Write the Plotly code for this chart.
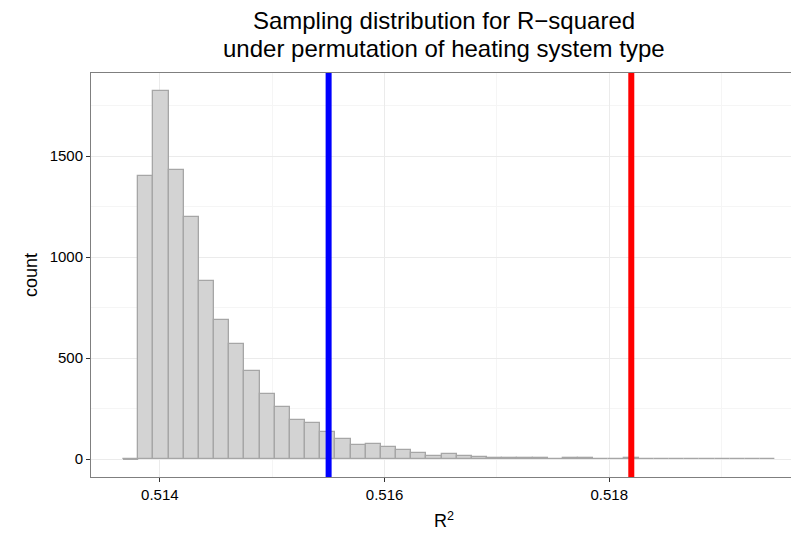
import numpy as np
import plotly.graph_objects as go

# histogram of permuted R-squared values
bin_start = 0.513672
bin_width = 0.000135
counts = [0, 1400, 1820, 1430, 1200, 880, 690, 570, 435, 325, 258, 195, 177, 135,
          99, 70, 76, 58, 45, 30, 15, 26, 16, 12, 4, 8, 6, 5, 3, 8, 8, 3, 2, 4,
          2, 1, 2, 2, 2, 1, 1, 2, 1]

cutoff_95 = 0.515502   # blue line
observed_r2 = 0.518196  # red line

x_ticks = [0.514, 0.516, 0.518]
y_ticks = [0, 500, 1000, 1500]

title_lines = ['Sampling distribution for R\u2212squared',
               'under permutation of heating system type']

counts = np.array(counts)
left_edges = bin_start + np.arange(len(counts)) * bin_width
centers = left_edges + bin_width / 2

fig = go.Figure()

fig.add_trace(go.Bar(
    x=centers, y=counts, width=bin_width,
    marker=dict(color='#d3d3d3', line=dict(color='#a6a6a6', width=1.3)),
    showlegend=False,
))

# ggplot draws empty bins as flat outlines
for x0, c in zip(left_edges, counts):
    if c == 0:
        fig.add_trace(go.Scatter(x=[x0, x0 + bin_width], y=[0, 0], mode='lines',
                                 line=dict(color='#a6a6a6', width=1.5),
                                 showlegend=False, hoverinfo='skip'))

fig.add_vline(x=cutoff_95, line=dict(color='#0000ff', width=6))
fig.add_vline(x=observed_r2, line=dict(color='#ff0000', width=6))

# page body adds ~8px offset, margins compensate
fig.update_layout(
    width=799, height=536,
    margin=dict(l=83, r=10, t=65, b=67),
    plot_bgcolor='white', paper_bgcolor='white',
    font=dict(family='Liberation Sans, Arial, sans-serif', color='black', size=15),
    title=dict(text=title_lines[0],
               x=0.5, xref='paper', xanchor='center',
               y=1 - 13 / 536, yref='container', yanchor='middle',
               font=dict(size=24, color='black')),
    bargap=0,
)
# second title line, tighter line spacing than plotly's <br>
fig.add_annotation(text=title_lines[1], xref='paper', yref='paper',
                   x=0.5, y=1 + 24 / 404, xanchor='center', yanchor='middle',
                   showarrow=False, font=dict(size=24, color='black'))

fig.update_xaxes(
    range=[0.513387, 0.519671],
    tickvals=x_ticks, ticktext=['%.3f' % v for v in x_ticks],
    ticks='outside', ticklen=4, tickcolor='#333333',
    showgrid=True, gridcolor='#ebebeb', gridwidth=1,
    minor=dict(showgrid=True, gridcolor='#f5f5f5', tick0=0.515, dtick=0.002),
    showline=True, linecolor='#7f7f7f', linewidth=1, mirror=True,
    zeroline=False,
    title=dict(text='R<sup>2</sup>', font=dict(size=18), standoff=12),
)
fig.update_yaxes(
    range=[-88, 1911],
    tickvals=y_ticks,
    ticks='outside', ticklen=4, tickcolor='#333333',
    showgrid=True, gridcolor='#ebebeb', gridwidth=1,
    minor=dict(showgrid=True, gridcolor='#f5f5f5', tick0=250, dtick=500),
    showline=True, linecolor='#7f7f7f', linewidth=1, mirror=True,
    zeroline=False,
    title=dict(text='count', font=dict(size=18), standoff=7),
)

fig.write_html("out.html")
